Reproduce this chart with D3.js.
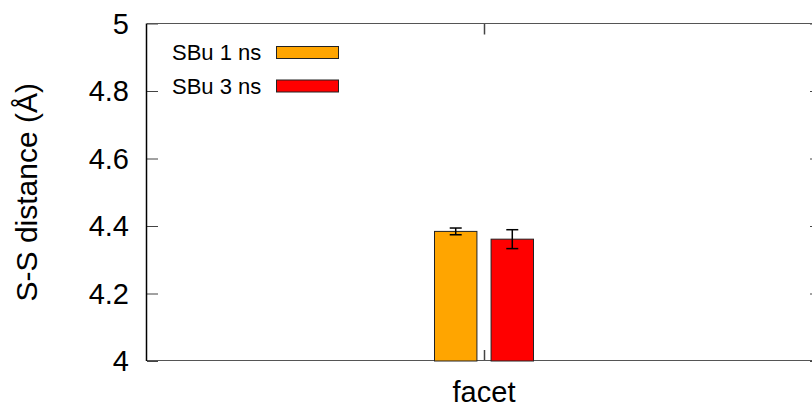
<!DOCTYPE html>
<html>
<head>
<meta charset="utf-8">
<script src="https://cdn.jsdelivr.net/npm/d3@7"></script>
<style>
  html, body { margin: 0; padding: 0; background: #fff; }
  svg { display: block; font-family: "Liberation Sans", Arial, sans-serif; }
</style>
</head>
<body>
<svg id="chart" width="812" height="407"></svg>
<script>
// Mean S-S distance per system, with standard-error bars
const categories = ["facet"];
const seriesNames = ["SBu 1 ns", "SBu 3 ns"];
const seriesColors = ["#ffa500", "#ff0000"];
const meanValues = [4.384, 4.361];
const errorValues = [0.010, 0.028];
const yTicks = [4, 4.2, 4.4, 4.6, 4.8, 5];
const yTickLabels = ["4", "4.2", "4.4", "4.6", "4.8", "5"];
const yLabel = "S-S distance (Å)";

const svg = d3.select("#chart");
const plotLeft = 147, plotRight = 821, plotTop = 23.5, plotBottom = 361;

const x = d3.scaleBand().domain(categories).range([plotLeft, plotRight]).padding(0);
const xs = d3.scaleBand().domain(seriesNames).range([-49.5, 49.5]).paddingInner(0.25);
const y = d3.scaleLinear().domain([4, 5]).range([plotBottom, plotTop]);

const frame = svg.append("g");

// y ticks (left, mirrored on right)
const yAxisL = d3.axisRight(y).tickValues(yTicks).tickSize(11).tickFormat("");
const yAxisR = d3.axisLeft(y).tickValues(yTicks).tickSize(11).tickFormat("");
frame.append("g").attr("transform", `translate(${plotLeft},0)`).call(yAxisL)
  .call(g => g.select(".domain").remove())
  .call(g => g.selectAll("line").attr("stroke", "#444"));
frame.append("g").attr("transform", `translate(${plotRight},0)`).call(yAxisR)
  .call(g => g.select(".domain").remove())
  .call(g => g.selectAll("line").attr("stroke", "#444"));

// y tick labels
svg.append("g").selectAll("text").data(yTicks).join("text")
  .attr("x", 129).attr("y", d => y(d)).attr("dy", "0.35em")
  .attr("text-anchor", "end").attr("font-size", 29).attr("fill", "#000")
  .text((d, i) => yTickLabels[i]);

// x ticks (bottom and top)
const cx = c => x(c) + x.bandwidth() / 2;
frame.selectAll(".xtb").data(categories).join("line")
  .attr("x1", d => Math.round(cx(d)) + 0.5).attr("x2", d => Math.round(cx(d)) + 0.5)
  .attr("y1", plotBottom).attr("y2", plotBottom - 11).attr("stroke", "#444").attr("stroke-width", 1.5);
frame.selectAll(".xtt").data(categories).join("line")
  .attr("x1", d => Math.round(cx(d)) + 0.5).attr("x2", d => Math.round(cx(d)) + 0.5)
  .attr("y1", plotTop).attr("y2", plotTop + 11).attr("stroke", "#444").attr("stroke-width", 1.5);

// x tick labels
svg.append("g").selectAll("text").data(categories).join("text")
  .attr("x", d => cx(d)).attr("y", 402)
  .attr("text-anchor", "middle").attr("font-size", 29).attr("fill", "#000")
  .text(d => d);

// bars
const bars = svg.append("g");
seriesNames.forEach((s, i) => {
  categories.forEach(c => {
    const bx = cx(c) + xs(s);
    bars.append("rect")
      .attr("x", bx).attr("y", y(meanValues[i]))
      .attr("width", xs.bandwidth()).attr("height", y(4) - y(meanValues[i]))
      .attr("fill", seriesColors[i]).attr("stroke", "#222").attr("stroke-width", 1);
    const mx = bx + xs.bandwidth() / 2;
    const e = svg.append("g").attr("stroke", "#000").attr("stroke-width", 1.5);
    e.append("line").attr("x1", mx).attr("x2", mx)
      .attr("y1", y(meanValues[i] + errorValues[i])).attr("y2", y(meanValues[i] - errorValues[i]));
    e.append("line").attr("x1", mx - 6).attr("x2", mx + 6)
      .attr("y1", y(meanValues[i] + errorValues[i])).attr("y2", y(meanValues[i] + errorValues[i]));
    e.append("line").attr("x1", mx - 6).attr("x2", mx + 6)
      .attr("y1", y(meanValues[i] - errorValues[i])).attr("y2", y(meanValues[i] - errorValues[i]));
  });
});

// border
frame.append("line").attr("x1", plotLeft).attr("x2", plotRight).attr("y1", plotTop).attr("y2", plotTop)
  .attr("stroke", "#555").attr("stroke-width", 1.2);
frame.append("line").attr("x1", plotLeft).attr("x2", plotRight).attr("y1", plotBottom - 0.5).attr("y2", plotBottom - 0.5)
  .attr("stroke", "#555").attr("stroke-width", 1.2);
frame.append("line").attr("x1", plotLeft - 0.5).attr("x2", plotLeft - 0.5).attr("y1", plotTop).attr("y2", plotBottom)
  .attr("stroke", "#000").attr("stroke-width", 1.5);
frame.append("line").attr("x1", plotRight).attr("x2", plotRight).attr("y1", plotTop).attr("y2", plotBottom)
  .attr("stroke", "#000").attr("stroke-width", 1.5);

// legend
const legend = svg.append("g");
seriesNames.forEach((s, i) => {
  const ly = 52.5 + i * 33.5;
  legend.append("text").attr("x", 172).attr("y", ly).attr("dy", "0.35em")
    .attr("font-size", 22).attr("fill", "#000").text(s);
  legend.append("rect").attr("x", 276.5).attr("y", ly - 6).attr("width", 62).attr("height", 12)
    .attr("fill", seriesColors[i]).attr("stroke", "#222").attr("stroke-width", 1);
});

// y axis title
svg.append("text")
  .attr("transform", `translate(36.5,${(plotTop + plotBottom) / 2}) rotate(-90)`)
  .attr("text-anchor", "middle").attr("font-size", 30).attr("fill", "#000")
  .text(yLabel);
</script>
</body>
</html>
